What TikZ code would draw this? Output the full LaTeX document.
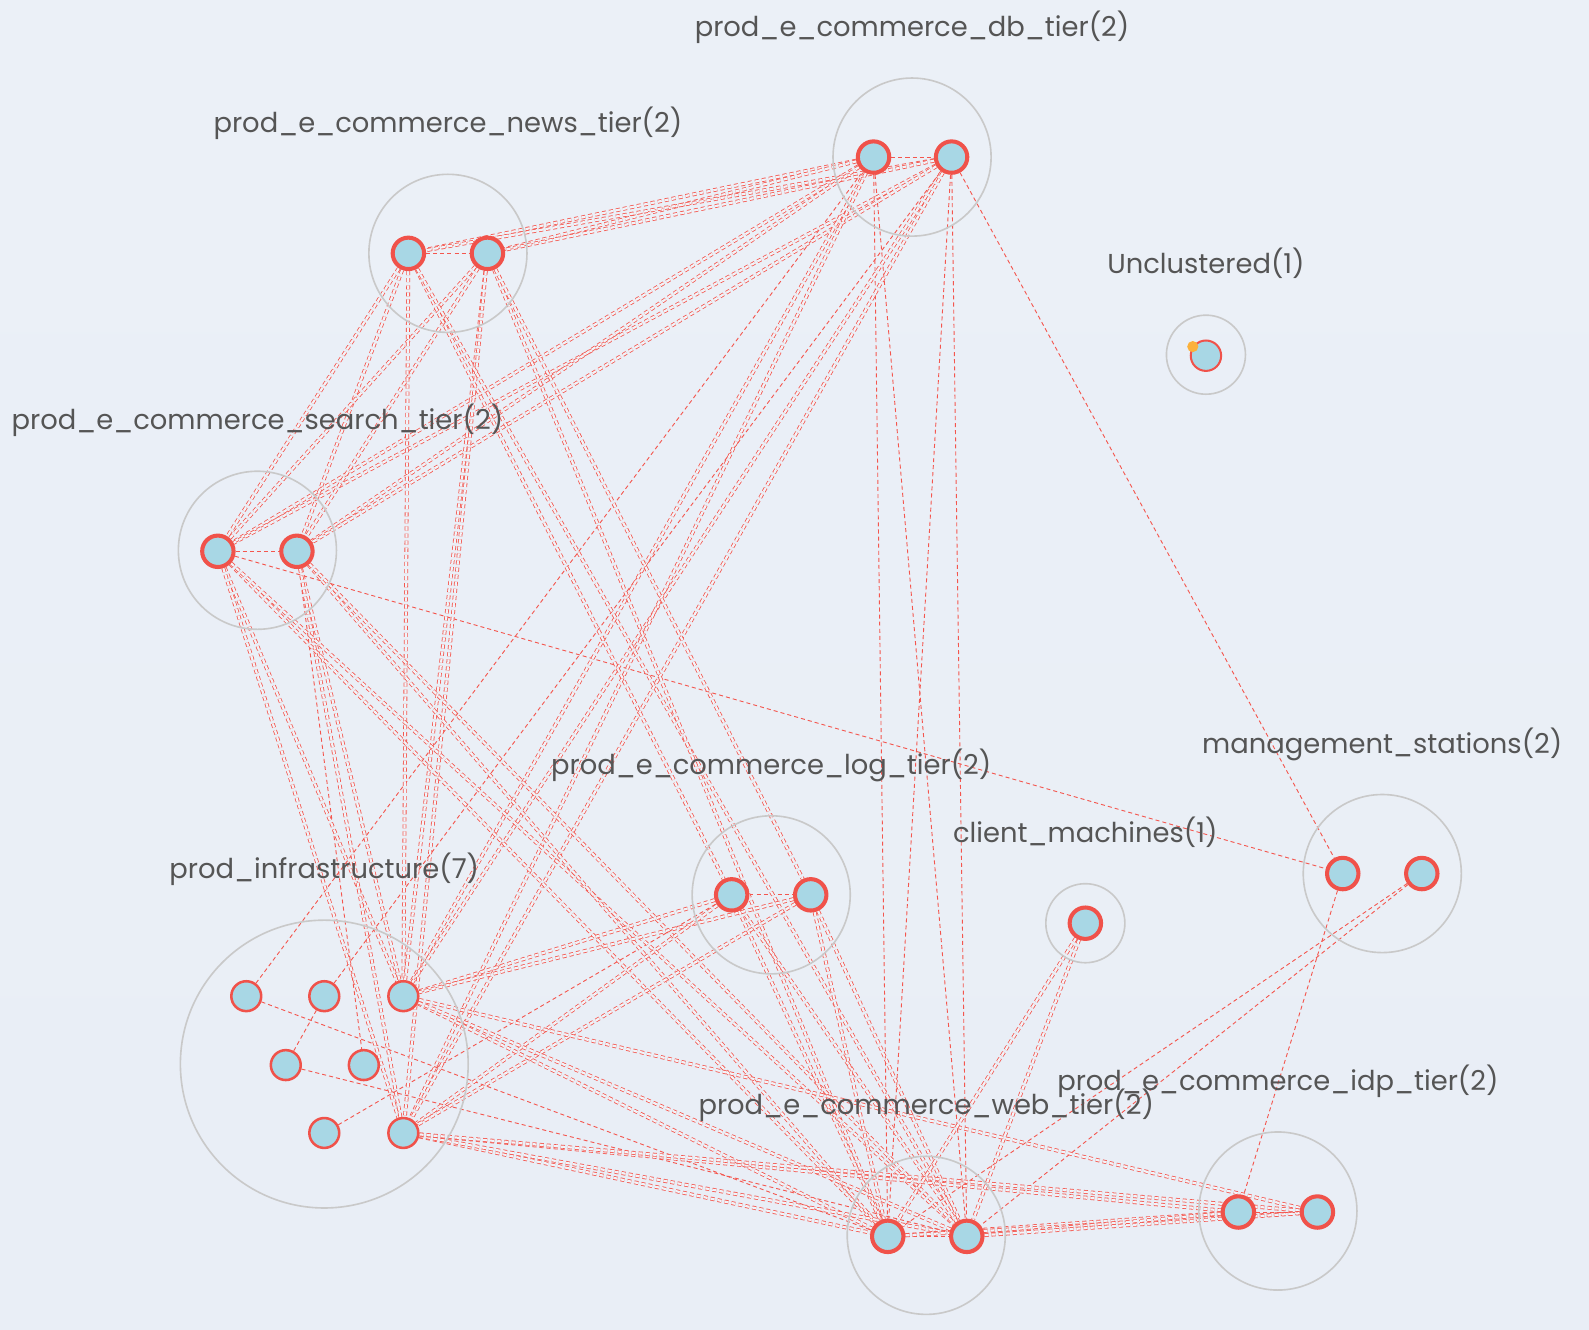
\documentclass[tikz,border=0pt]{standalone}
\usepackage{fontspec}
\setmainfont{Poppins}
\definecolor{bgtop}{HTML}{EBF0F7}
\definecolor{bgmid}{HTML}{F4F6FA}
\definecolor{bgbot}{HTML}{E9EEF6}
\definecolor{bgc}{HTML}{F1F4F9}
\definecolor{nred}{HTML}{F0524A}
\definecolor{ered}{HTML}{F4564E}
\definecolor{nblue}{HTML}{A8D7E5}
\definecolor{cgray}{HTML}{C9C9C9}
\definecolor{tgray}{HTML}{555555}
\definecolor{dotc}{HTML}{FBB13C}
\pgfdeclarelayer{bglayer}
\pgfdeclarelayer{edgelayer}
\pgfsetlayers{bglayer,edgelayer,main}
\begin{document}
\begin{tikzpicture}[x=0.5pt,y=-0.5pt,
  tnode/.style={circle, draw=nred, line width=2pt, fill=nblue, minimum size=15.5pt, inner sep=0pt},
  inode/.style={circle, draw=nred, line width=1.25pt, fill=nblue, minimum size=14.75pt, inner sep=0pt},
  unode/.style={circle, draw=nred, line width=1pt, fill=nblue, minimum size=15pt, inner sep=0pt},
  clus/.style={circle, draw=cgray, line width=0.8pt, inner sep=0pt, minimum size=78pt},
  sclus/.style={clus, minimum size=39pt},
  bclus/.style={clus, minimum size=142pt},
  lab/.style={text=tgray, font=\fontsize{13.5}{16}\selectfont, inner sep=0pt, anchor=base},
  ln/.style={draw=ered, line width=0.45pt, dash pattern=on 2pt off 1.5pt},
  lnd/.style={draw=ered, line width=0.4pt, dash pattern=on 2pt off 1.5pt, double=bgc, double distance=1.1pt}
]
\useasboundingbox (0,0) rectangle (1568,1311.5);
\begin{pgfonlayer}{bglayer}
\shade[top color=bgtop, middle color=bgmid, bottom color=bgbot] (0,0) rectangle (1568,1311.5);
\end{pgfonlayer}
% clusters
\node[clus] (cD) at (900,155) {};
\node[clus] (cN) at (442,250) {};
\node[sclus] (cU) at (1190,350) {};
\node[clus] (cS) at (254,543) {};
\node[clus] (cM) at (1364,862) {};
\node[clus] (cL) at (761,883) {};
\node[sclus] (cC) at (1071,911) {};
\node[bclus] (cI) at (320,1050) {};
\node[clus] (cW) at (914,1219) {};
\node[clus] (cP) at (1261,1195) {};
% nodes
\node[tnode] (D1) at (862,155) {};
\node[tnode] (D2) at (939,155) {};
\node[tnode] (N1) at (403,250) {};
\node[tnode] (N2) at (481,250) {};
\node[tnode] (S1) at (215,544) {};
\node[tnode] (S2) at (293,544) {};
\node[tnode] (M1) at (1325,862) {};
\node[tnode] (M2) at (1403,862) {};
\node[tnode] (L1) at (722,883) {};
\node[tnode] (L2) at (800,883) {};
\node[tnode] (C) at (1071,911) {};
\node[tnode] (W1) at (876,1220) {};
\node[tnode] (W2) at (954,1220) {};
\node[tnode] (P1) at (1222,1196) {};
\node[tnode] (P2) at (1300,1196) {};
\node[inode] (I1) at (243,983) {};
\node[inode] (I2) at (320,983) {};
\node[inode] (I3) at (398,983) {};
\node[inode] (I4) at (282,1051) {};
\node[inode] (I5) at (359,1051) {};
\node[inode] (I6) at (320,1118) {};
\node[inode] (I7) at (398,1118) {};
\node[unode] (U) at (1190,351) {};
\node[circle, fill=dotc, minimum size=5.5pt, inner sep=0pt] (Ud) at (1177,342) {};
% edges
\begin{pgfonlayer}{edgelayer}
\foreach \a/\b in {D1/D2,N1/N2,S1/S2,L1/L2,W1/W2,P1/P2,D1/W1,D1/W2,D2/W1,D2/W2,D2/M1,S1/M1,M1/P1,M2/W1,M2/W2,I1/D1,I1/W1,I4/W2,I4/I2,I2/D2,I6/L1,S2/I5}
  \draw[ln] (\a) -- (\b);
\foreach \a/\b in {D1/N1,D1/N2,D2/N1,D2/N2,D1/S1,D2/S1,D1/S2,D2/S2,D1/I3,D2/I3,D1/I7,D2/I7,N1/S1,N1/S2,N2/S1,N2/S2,N1/I3,N2/I3,N2/I7,N1/L1,N1/W2,N2/W1,N2/L2,S1/I3,S1/I7,S2/I3,S2/I7,S1/W1,S1/W2,S2/W1,S2/W2,L1/W1,L1/W2,L2/W1,L2/W2,L1/I3,L2/I3,L1/I7,L2/I7,I3/W1,I3/W2,I7/W1,I7/W2,I3/P2,I7/P1,I7/P2,W1/P1,W1/P2,W2/P1,W2/P2,C/W1,C/W2}
  \draw[lnd] (\a) -- (\b);
\end{pgfonlayer}
% labels
\node[lab] (tD) at (900,36) {prod\_e\_commerce\_db\_tier(2)};
\node[lab] (tN) at (442,131) {prod\_e\_commerce\_news\_tier(2)};
\node[lab] (tU) at (1190,270) {Unclustered(1)};
\node[lab] (tS) at (254,424) {prod\_e\_commerce\_search\_tier(2)};
\node[lab] (tM) at (1364,744) {management\_stations(2)};
\node[lab] (tL) at (761,764) {prod\_e\_commerce\_log\_tier(2)};
\node[lab] (tC) at (1071,831) {client\_machines(1)};
\node[lab] (tI) at (320,867) {prod\_infrastructure(7)};
\node[lab] (tW) at (914,1100) {prod\_e\_commerce\_web\_tier(2)};
\node[lab] (tP) at (1261,1076) {prod\_e\_commerce\_idp\_tier(2)};
\end{tikzpicture}
\end{document}
